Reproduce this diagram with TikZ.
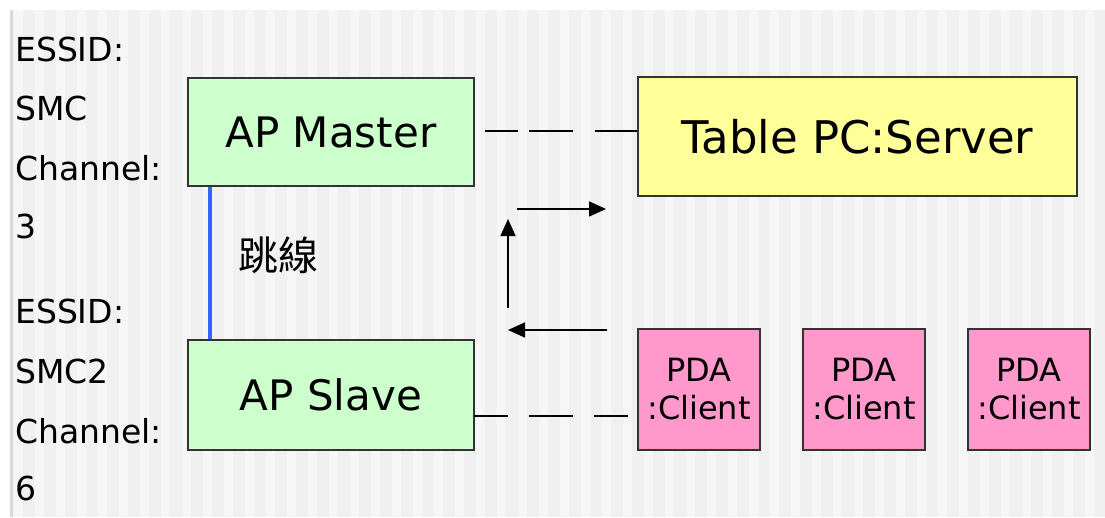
\documentclass[tikz,border=0pt]{standalone}
\usepackage{fontspec}
\setmainfont{DejaVu Sans}
\newfontfamily\cjk{Noto Sans CJK TC}
\usetikzlibrary{arrows.meta}
\definecolor{bgA}{HTML}{F0F0F0}
\definecolor{bgB}{HTML}{F6F6F6}
\definecolor{edgegray}{HTML}{DADADA}
\definecolor{boxline}{HTML}{333333}
\definecolor{apgreen}{HTML}{CCFFCC}
\definecolor{srvyellow}{HTML}{FFFF99}
\definecolor{pdapink}{HTML}{FF99CC}
\definecolor{linkblue}{HTML}{3366FF}
\tikzset{
  box/.style={draw=boxline, line width=1.3pt, rectangle, inner sep=0pt},
  apbox/.style={box, fill=apgreen, minimum width=286pt, font=\fontsize{42}{48}\selectfont},
  pdabox/.style={box, fill=pdapink, minimum width=122pt, minimum height=121pt, align=center, font=\fontsize{32}{38}\selectfont},
  sidelabel/.style={anchor=base west, inner sep=0pt, font=\fontsize{33}{36}\selectfont},
  flow/.style={line width=1.6pt, -{Triangle[length=17pt,width=15pt]}},
  dashline/.style={line width=1.6pt}
}
\begin{document}
\begin{tikzpicture}[x=1pt,y=-1pt]
\useasboundingbox (0,0) rectangle (1105,517);
\fill[white] (0,0) rectangle (1105,517);
\fill[bgA] (10,10) rectangle (1105,517);
\foreach \i in {0,...,52} {
  \fill[bgB] ({14+21*\i},10) rectangle ({23+21*\i},517);
}
\fill[edgegray] (10,10) rectangle (13,517);

% left labels
\node[sidelabel] (e1) at (15,61) {ESSID:};
\node[sidelabel] (s1) at (15,120) {SMC};
\node[sidelabel] (c1) at (15,180) {Channel:};
\node[sidelabel] (n1) at (15,238) {3};
\node[sidelabel] (e2) at (15,323) {ESSID:};
\node[sidelabel] (s2) at (15,383) {SMC2};
\node[sidelabel] (c2) at (15,443) {Channel:};
\node[sidelabel] (n2) at (15,500) {6};

% boxes
\node[apbox, minimum height=108pt] (master) at (331,132) {AP Master};
\node[apbox, minimum height=110pt] (slave) at (331,395) {AP Slave};
\node[box, fill=srvyellow, minimum width=439pt, minimum height=119pt, font=\fontsize{45}{48}\selectfont] (server) at (857.5,136.5) {Table PC:Server};
\node[pdabox] (pda1) at (699,389.5) {PDA\\:Client};
\node[pdabox] (pda2) at (864,389.5) {PDA\\:Client};
\node[pdabox] (pda3) at (1029,389.5) {PDA\\:Client};

% jumper cable
\coordinate (lk) at (210,0);
\draw[linkblue, line width=4pt] (master.south -| lk) -- (slave.north -| lk);
\node[font=\cjk\fontsize{40}{44}\selectfont] (jump) at (278,255) {跳線};

% dashed links
\coordinate (t1) at (485,131);
\draw[dashline, dash pattern=on 33pt off 11pt on 44pt off 22pt on 60pt] (t1) -- (t1 -| server.west);
\coordinate (b1) at (474,416);
\coordinate (b2) at (628,416);
\draw[dashline, dash pattern=on 34pt off 21pt on 44pt off 21pt on 60pt] (b1) -- (b2);

% flow arrows
\coordinate (a1) at (517,209);
\coordinate (a2) at (606,209);
\coordinate (u1) at (508,308);
\coordinate (u2) at (508,219);
\coordinate (l1) at (607,330);
\coordinate (l2) at (508,330);
\draw[flow] (a1) -- (a2);
\draw[flow] (u1) -- (u2);
\draw[flow] (l1) -- (l2);
\end{tikzpicture}
\end{document}
